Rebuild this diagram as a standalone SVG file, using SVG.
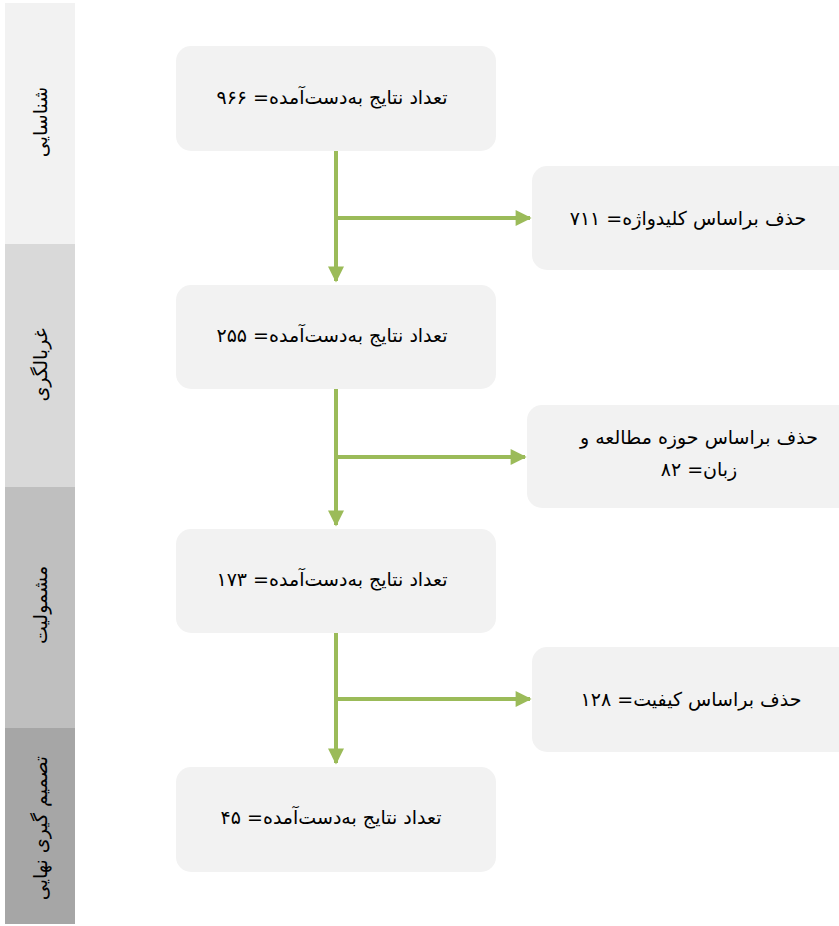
<svg xmlns="http://www.w3.org/2000/svg" width="839" height="926" viewBox="0 0 839 926">
<style>
.box{fill:#f2f2f2}
.t{font-family:"DejaVu Sans","Noto Sans",sans-serif;font-size:19px;fill:#000;direction:rtl;text-anchor:middle}
.s{font-family:"DejaVu Sans","Noto Sans",sans-serif;font-size:19px;fill:#000;direction:rtl;text-anchor:middle}
.c{stroke:#9bbb59;stroke-width:4;fill:none}
</style>
<defs>
<marker id="ah" markerWidth="4" markerHeight="4" refX="3.6" refY="2" orient="auto" markerUnits="strokeWidth" overflow="visible">
<path d="M0,0 L4,2 L0,4 Z" fill="#9bbb59"/>
</marker>
</defs>
<g id="sidebar">
<g id="stage1"><rect x="5" y="3" width="70" height="241" fill="#f2f2f2"/><text class="s" transform="translate(47,122) rotate(-90)">شناسایی</text></g>
<g id="stage2"><rect x="5" y="244" width="70" height="243" fill="#d9d9d9"/><text class="s" transform="translate(47,365) rotate(-90)">غربالگری</text></g>
<g id="stage3"><rect x="5" y="487" width="70" height="241" fill="#bfbfbf"/><text class="s" transform="translate(47,605) rotate(-90)">مشمولیت</text></g>
<g id="stage4"><rect x="5" y="728" width="70" height="196" fill="#a6a6a6"/><text class="s" transform="translate(47,828) rotate(-90)">تصمیم گیری نهایی</text></g>
</g>
<g id="connectors">
<path class="c" d="M336,151 V281" marker-end="url(#ah)"/>
<path class="c" d="M336,218 H530" marker-end="url(#ah)"/>
<path class="c" d="M336,389 V525" marker-end="url(#ah)"/>
<path class="c" d="M336,457 H525" marker-end="url(#ah)"/>
<path class="c" d="M336,633 V763" marker-end="url(#ah)"/>
<path class="c" d="M336,699 H530" marker-end="url(#ah)"/>
</g>
<g id="n1"><rect class="box" x="176" y="46" width="320" height="105" rx="15"/><text class="t" x="332" y="104">تعداد نتایج به‌دست‌آمده= ۹۶۶</text></g>
<g id="n2"><rect class="box" x="176" y="285" width="320" height="104" rx="15"/><text class="t" x="332" y="342">تعداد نتایج به‌دست‌آمده= ۲۵۵</text></g>
<g id="n3"><rect class="box" x="176" y="529" width="320" height="104" rx="15"/><text class="t" x="332" y="586">تعداد نتایج به‌دست‌آمده= ۱۷۳</text></g>
<g id="n4"><rect class="box" x="176" y="767" width="320" height="105" rx="15"/><text class="t" x="331" y="824">تعداد نتایج به‌دست‌آمده= ۴۵</text></g>
<g id="r1"><rect class="box" x="532" y="166" width="320" height="104" rx="15"/><text class="t" x="688" y="225">حذف براساس کلیدواژه= ۷۱۱</text></g>
<g id="r2"><rect class="box" x="527" y="405" width="325" height="103" rx="15"/><text class="t" x="699" y="444">حذف براساس حوزه مطالعه و</text><text class="t" x="699" y="476">زبان= ۸۲</text></g>
<g id="r3"><rect class="box" x="532" y="647" width="320" height="105" rx="15"/><text class="t" x="691" y="706">حذف براساس کیفیت= ۱۲۸</text></g>
</svg>
